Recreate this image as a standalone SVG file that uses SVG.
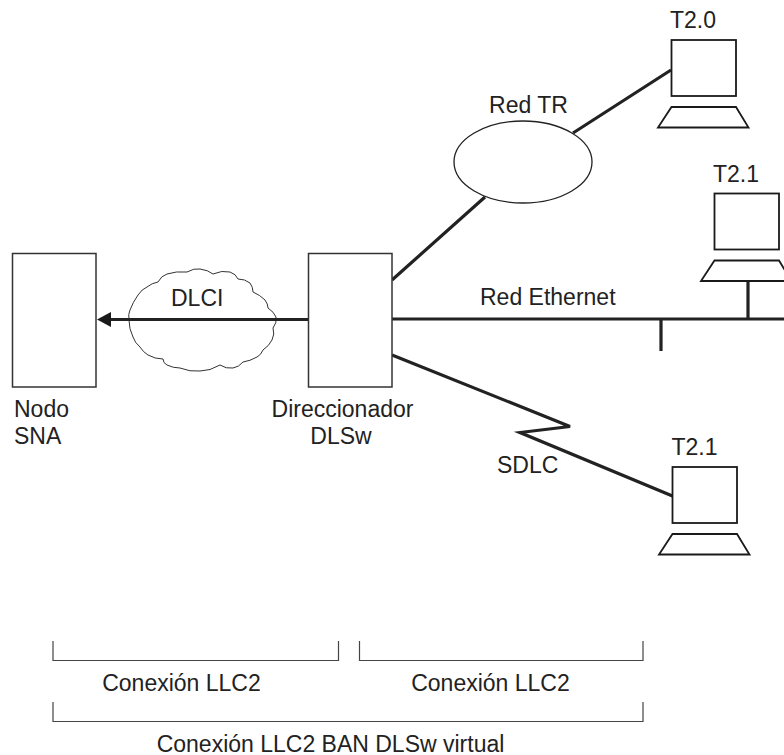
<svg xmlns="http://www.w3.org/2000/svg" width="784" height="755" viewBox="0 0 784 755">
<style>
text{font-family:"Liberation Sans",Arial,sans-serif;font-size:23px;fill:#222}
.box{fill:#fff;stroke:#333;stroke-width:1.5}
.pc{fill:#fff;stroke:#1a1a1a;stroke-width:1.8}
.link{fill:none;stroke:#222;stroke-width:3.2}
.br{fill:none;stroke:#444;stroke-width:1.2}
</style>
<defs>
<g id="pc"><rect class="pc" x="0" y="0" width="64.500" height="56"/><path class="pc" d="M0 67H64.500L77 87.500H-13.500Z"/></g>
</defs>
<g id="connectors">
<path class="link" d="M392 280L485 197M573 133L671 70"/>
<path class="link" d="M392 319H784M661 319V351M748 282V319"/>
<path class="link" d="M392 355L570 426.500L520 432.500L672.500 496"/>
</g>
<g id="cloud-dlci"><path fill="#fff" stroke="#333" stroke-width="1" d="M129 320Q128 314 130 310Q133 302 138 295Q142 289 147 287Q152 283 158 282Q161 276 167 274Q176 271 187 272Q194 268 200 269Q208 270 213 274Q222 270 230 272Q236 274 238 279Q245 279 250 283Q253 287 253 292Q260 295 265 300Q268 304 268 308Q274 312 276 317Q277 323 273 328Q275 334 272 340Q269 346 263 350Q261 355 257 357Q250 361 243 362Q239 367 233 368Q226 369 220 365Q210 371 200 371Q190 372 180 368Q173 368 167 365Q163 363 163 359Q155 359 148 355Q143 352 140 347Q135 343 133 337Q129 329 129 320Z"/><text x="171" y="306">DLCI</text></g>
<g id="connector-dlci"><path class="link" d="M308 319.500H108"/><path fill="#1a1a1a" d="M97 319.500L111 312V327Z"/></g>
<g id="node-sna"><rect class="box" x="12.500" y="253.500" width="83.500" height="133.500"/><text x="14" y="417">Nodo</text><text x="14" y="444">SNA</text></g>
<g id="node-router"><rect class="box" x="308.500" y="253.500" width="83.500" height="133.500"/><text x="342.500" y="417" text-anchor="middle">Direccionador</text><text x="341" y="444" text-anchor="middle">DLSw</text></g>
<g id="node-red-tr"><ellipse fill="#fff" stroke="#222" stroke-width="1.300" cx="523" cy="162" rx="69" ry="41"/><text x="528.500" y="112.500" text-anchor="middle">Red TR</text></g>
<g id="node-t20"><use href="#pc" x="671.500" y="40"/><text x="670" y="28">T2.0</text></g>
<g id="node-t21a"><use href="#pc" x="714.500" y="193.500"/><text x="713" y="181.500">T2.1</text></g>
<g id="node-t21b"><use href="#pc" x="672.500" y="467"/><text x="671.500" y="455">T2.1</text></g>
<text x="480" y="305">Red Ethernet</text>
<text x="497" y="473">SDLC</text>
<g id="brackets">
<path class="br" d="M53 641V660.500H338.500V641"/>
<path class="br" d="M359.500 641V660.500H643V641"/>
<path class="br" d="M53 702V721.500H643V702"/>
</g>
<text x="181.500" y="691" text-anchor="middle">Conexión LLC2</text>
<text x="490.500" y="691" text-anchor="middle">Conexión LLC2</text>
<text x="330.500" y="751.500" text-anchor="middle">Conexión LLC2 BAN DLSw virtual</text>
</svg>
